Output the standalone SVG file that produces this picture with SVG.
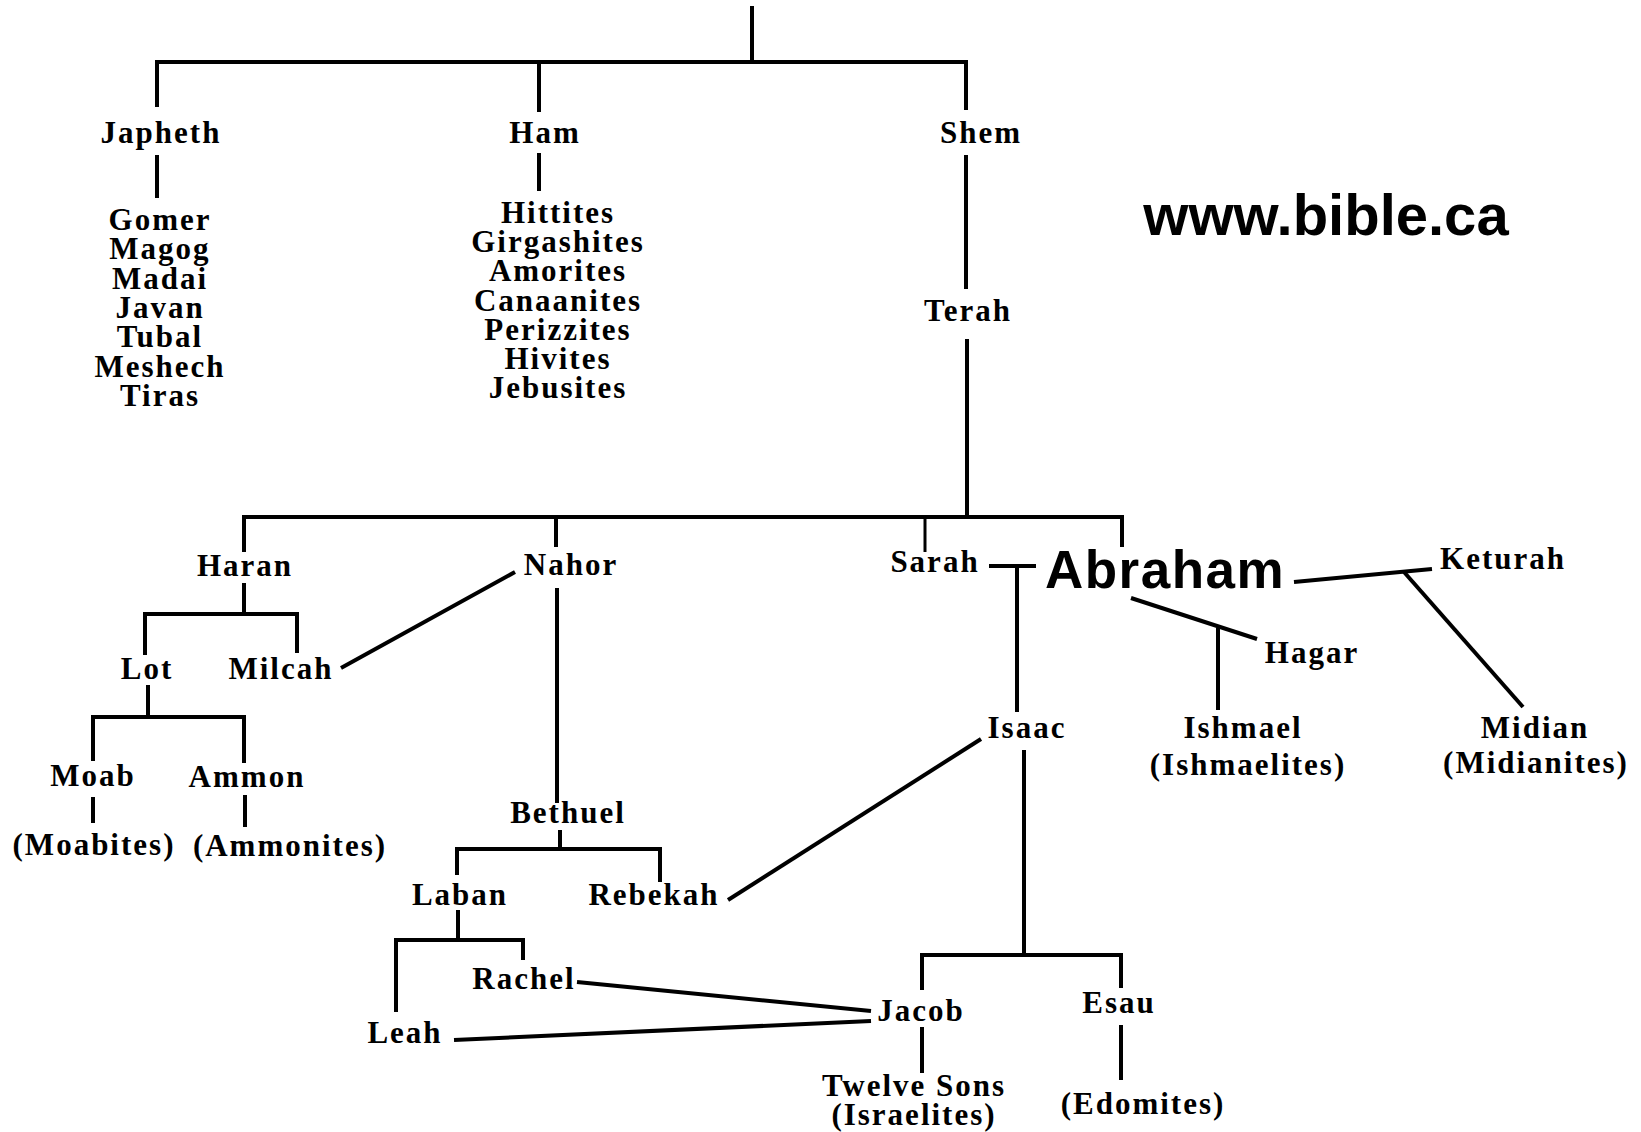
<svg xmlns="http://www.w3.org/2000/svg" width="1641" height="1132" viewBox="0 0 1641 1132">
<style>
.t{font-family:"Liberation Serif","Times New Roman",serif;font-weight:bold;font-size:31px;letter-spacing:2px;text-anchor:middle;fill:#000}
.s{font-family:"Liberation Sans",Arial,sans-serif;font-weight:bold;text-anchor:middle;fill:#000}
.ln path{stroke:#000;stroke-width:4;fill:none}
</style>
<rect width="1641" height="1132" fill="#fff"/>
<g id="connectors" class="ln">
<path d="M752 6V62"/>
<path d="M155 62H968"/>
<path d="M157 60V107"/>
<path d="M539 62V112"/>
<path d="M966 60V110"/>
<path d="M157 155V198"/>
<path d="M539 153V191"/>
<path d="M966 155V289"/>
<path d="M967 339V517"/>
<path d="M242 517H1124"/>
<path d="M244 515V552"/>
<path d="M556 517V547"/>
<path d="M925 517V552" style="stroke-width:3"/>
<path d="M1122 515V547"/>
<path d="M244 583V614"/>
<path d="M143 614H299"/>
<path d="M145 612V655"/>
<path d="M297 612V653"/>
<path d="M341 668L515 572"/>
<path d="M557 588V803"/>
<path d="M148 685V717"/>
<path d="M91 717H246"/>
<path d="M93 715V761"/>
<path d="M244 715V763"/>
<path d="M93 797V823"/>
<path d="M245 795V827"/>
<path d="M560 830V849"/>
<path d="M455 849H662"/>
<path d="M457 847V875"/>
<path d="M660 847V882"/>
<path d="M458 910V940"/>
<path d="M394 940H525"/>
<path d="M396 938V1012"/>
<path d="M523 938V960"/>
<path d="M577 982L871 1011"/>
<path d="M454 1040L871 1021"/>
<path d="M922 1027V1073"/>
<path d="M1024 750V955"/>
<path d="M920 955H1123"/>
<path d="M922 953V990"/>
<path d="M1121 953V988"/>
<path d="M1121 1025V1080"/>
<path d="M989 566H1036"/>
<path d="M1017 564V712"/>
<path d="M981 739L728 900"/>
<path d="M1294 582L1432 569"/>
<path d="M1404 572L1523 707"/>
<path d="M1131 598L1257 639"/>
<path d="M1218 628V710"/>
</g>
<g id="japheth"><text class="t" x="161" y="143">Japheth</text></g>
<g id="japheth-sons">
<text class="t" x="160" y="230">Gomer</text>
<text class="t" x="160" y="259">Magog</text>
<text class="t" x="160" y="289">Madai</text>
<text class="t" x="160" y="318">Javan</text>
<text class="t" x="160" y="347">Tubal</text>
<text class="t" x="160" y="377">Meshech</text>
<text class="t" x="160" y="406">Tiras</text>
</g>
<g id="ham"><text class="t" x="545" y="143">Ham</text></g>
<g id="ham-peoples">
<text class="t" x="558" y="223">Hittites</text>
<text class="t" x="558" y="252">Girgashites</text>
<text class="t" x="558" y="281">Amorites</text>
<text class="t" x="558" y="311">Canaanites</text>
<text class="t" x="558" y="340">Perizzites</text>
<text class="t" x="558" y="369">Hivites</text>
<text class="t" x="558" y="398">Jebusites</text>
</g>
<g id="shem"><text class="t" x="981" y="143">Shem</text></g>
<g id="terah"><text class="t" x="968" y="321">Terah</text></g>
<g id="site"><text class="s" x="1326" y="235" style="font-size:58px">www.bible.ca</text></g>
<g id="haran"><text class="t" x="245" y="576">Haran</text></g>
<g id="nahor"><text class="t" x="571" y="575">Nahor</text></g>
<g id="sarah"><text class="t" x="935" y="572">Sarah</text></g>
<g id="abraham"><text class="s" x="1165" y="588" style="font-size:53px;letter-spacing:1.5px">Abraham</text></g>
<g id="keturah"><text class="t" x="1503" y="569">Keturah</text></g>
<g id="lot"><text class="t" x="147" y="679">Lot</text></g>
<g id="milcah"><text class="t" x="281" y="679">Milcah</text></g>
<g id="hagar"><text class="t" x="1312" y="663">Hagar</text></g>
<g id="isaac"><text class="t" x="1027" y="738">Isaac</text></g>
<g id="ishmael"><text class="t" x="1243" y="738">Ishmael</text><text class="t" x="1248" y="775">(Ishmaelites)</text></g>
<g id="midian"><text class="t" x="1535" y="738">Midian</text><text class="t" x="1536" y="773">(Midianites)</text></g>
<g id="moab"><text class="t" x="93" y="786">Moab</text></g>
<g id="ammon"><text class="t" x="247" y="787">Ammon</text></g>
<g id="moabites"><text class="t" x="94" y="855">(Moabites)</text></g>
<g id="ammonites"><text class="t" x="290" y="856">(Ammonites)</text></g>
<g id="bethuel"><text class="t" x="568" y="823">Bethuel</text></g>
<g id="laban"><text class="t" x="460" y="905">Laban</text></g>
<g id="rebekah"><text class="t" x="654" y="905">Rebekah</text></g>
<g id="rachel"><text class="t" x="524" y="989">Rachel</text></g>
<g id="leah"><text class="t" x="405" y="1043">Leah</text></g>
<g id="jacob"><text class="t" x="921" y="1021">Jacob</text></g>
<g id="esau"><text class="t" x="1119" y="1013">Esau</text></g>
<g id="twelve-sons"><text class="t" x="914" y="1096">Twelve Sons</text><text class="t" x="914" y="1125">(Israelites)</text></g>
<g id="edomites"><text class="t" x="1143" y="1114">(Edomites)</text></g>
</svg>
